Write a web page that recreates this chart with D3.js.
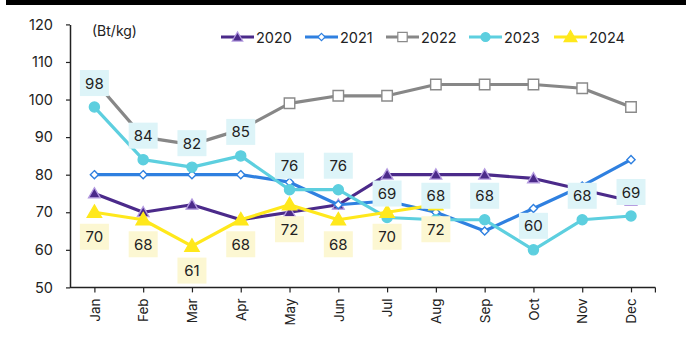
<!DOCTYPE html>
<html><head><meta charset="utf-8">
<script src="https://cdn.jsdelivr.net/npm/d3@7"></script>
<style>body{margin:0;background:#fff}svg{display:block;font-family:Inter,"Noto Sans",sans-serif}</style>
</head><body><svg id="c" width="686" height="342"></svg>
<script>
const months = ["Jan","Feb","Mar","Apr","May","Jun","Jul","Aug","Sep","Oct","Nov","Dec"];
const yTicks = [50,60,70,80,90,100,110,120];
const s2020 = [75,70,72,68,70,72,80,80,80,79,76,73];
const s2021 = [80,80,80,80,78,72,73,70,65,71,77,84];
const s2022 = [105,90,88,92,99,101,101,104,104,104,103,98];
const s2023 = [98,84,82,85,76,76,68.6,68,68,60,68,69];
const s2024 = [70,68,61,68,72,68,70,72];
const seriesNames = ["2020","2021","2022","2023","2024"];
const unitLabel = "(Bt/kg)";

const series = [
  {name:"2020", values:s2020, color:"#4B2A8A", marker:"tri", mfill:"#4B2A8A", mstroke:"#B49BE0", msize:60},
  {name:"2021", values:s2021, color:"#2F80E0", marker:"diamond", mfill:"#fff", mstroke:"#2F80E0", msize:28},
  {name:"2022", values:s2022, color:"#878787", marker:"square", mfill:"#fff", mstroke:"#8a8a8a", msize:110},
  {name:"2023", values:s2023, color:"#5DCFDF", marker:"circle", mfill:"#5DCFDF", mstroke:"#5DCFDF", msize:80},
  {name:"2024", values:s2024, color:"#FFE81C", marker:"tri", mfill:"#FFE81C", mstroke:"#FFE81C", msize:90}
];

const svg = d3.select("#c");
svg.append("rect").attr("x",6).attr("y",0).attr("width",680).attr("height",5).attr("fill","#000");

const x = d3.scaleBand().domain(months).range([70,655.4]);
const y = d3.scaleLinear().domain([50,120]).range([287.4,24.4]);
const cx = m => x(m) + x.bandwidth()/2;

// axes
const gy = svg.append("g").attr("transform","translate(70,0)")
  .call(d3.axisLeft(y).tickValues(yTicks).tickSize(4).tickSizeOuter(0).tickPadding(13));
gy.select(".domain").attr("stroke","#222").attr("stroke-width",1.5);
gy.selectAll(".tick line").attr("stroke","#222").attr("stroke-width",1.2);
gy.selectAll(".tick text").attr("font-size",14.5).attr("fill","#222").attr("font-family","Inter");

const gx = svg.append("g").attr("transform","translate(0,287.4)");
const xp = d3.scalePoint().domain(months).range([cx("Jan"),cx("Dec")]);
gx.call(d3.axisBottom(xp).tickSize(5).tickSizeOuter(0).tickPadding(0));
gx.select(".domain").remove();
gx.append("line").attr("x1",70).attr("x2",655.4).attr("stroke","#222").attr("stroke-width",1.5);
gx.append("line").attr("x1",655.4).attr("x2",655.4).attr("y2",5).attr("stroke","#222").attr("stroke-width",1.2);
gx.selectAll(".tick line").attr("stroke","#222").attr("stroke-width",1.2);
gx.selectAll(".tick text").attr("font-size",13.5).attr("fill","#222").attr("font-family","Inter")
  .attr("text-anchor","end").attr("transform","translate(0,11) rotate(-90)").attr("dy","0.35em").attr("x",0).attr("y",0);

svg.append("text").attr("x",92).attr("y",32).attr("dominant-baseline","middle")
  .attr("font-size",14).attr("fill","#222").text(unitLabel);

const diamondSym = { draw(ctx, size){ const r = Math.sqrt(size)/1.3; ctx.moveTo(0,-r); ctx.lineTo(r,0); ctx.lineTo(0,r); ctx.lineTo(-r,0); ctx.closePath(); } };
function sym(t){ return t==="tri"?d3.symbolTriangle: t==="diamond"?diamondSym: t==="square"?d3.symbolSquare: d3.symbolCircle; }

const line = d3.line().x((d,i)=>cx(months[i])).y(d=>y(d));
series.forEach(s=>{
  const g = svg.append("g");
  g.append("path").datum(s.values).attr("d",line).attr("fill","none")
    .attr("stroke",s.color).attr("stroke-width",3.2).attr("stroke-linejoin","round");
  g.selectAll("path.m").data(s.values).enter().append("path").attr("class","m")
    .attr("d",d3.symbol().type(sym(s.marker)).size(s.msize))
    .attr("transform",(d,i)=>`translate(${cx(months[i])},${y(d)+(s.marker==="tri"?1:0)})`)
    .attr("fill",s.mfill).attr("stroke",s.mstroke).attr("stroke-width",s.marker==="tri"?1.3:1.4);
});

// data labels
const fmt = d3.format(".0f");
function labels(vals, off, bg){
  const g = svg.append("g");
  vals.forEach((v,i)=>{
    const X = cx(months[i]), Y = y(v)+off;
    g.append("rect").attr("x",X-14.5).attr("y",Y-13).attr("width",29).attr("height",26).attr("fill",bg);
    g.append("text").attr("x",X).attr("y",Y).attr("text-anchor","middle").attr("dominant-baseline","central")
      .attr("font-size",15).attr("fill","#222").text(fmt(v));
  });
}
labels(s2023,-24,"#DDF4F8");
labels(s2024,24.5,"#FCF7D2");

// legend
const lx = [221,305,386,469,554];
series.forEach((s,i)=>{
  const g = svg.append("g").attr("transform",`translate(${lx[i]},37)`);
  g.append("line").attr("x1",0).attr("x2",33).attr("stroke",s.color).attr("stroke-width",3.2);
  g.append("path").attr("d",d3.symbol().type(sym(s.marker)).size(s.msize*0.8))
    .attr("transform",`translate(16.5,${s.marker==="tri"?1:0})`)
    .attr("fill",s.mfill).attr("stroke",s.mstroke).attr("stroke-width",1.2);
  g.append("text").attr("x",35).attr("y",0).attr("dominant-baseline","central")
    .attr("font-size",14.5).attr("fill","#222").text(seriesNames[i]);
});
</script></body></html>
